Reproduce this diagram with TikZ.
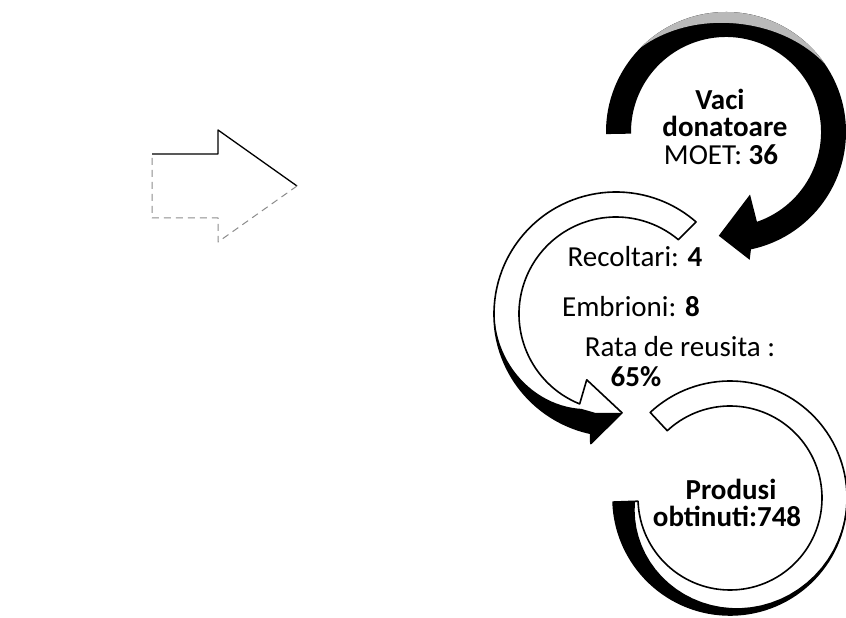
\documentclass[tikz,border=0pt]{standalone}
\usepackage{fontspec}
\setmainfont{Carlito}
\begin{document}
\begin{tikzpicture}[x=1pt,y=1pt,line join=round,
  lbl/.style={anchor=base,inner sep=0pt,font=\fontsize{29}{29}\selectfont},
  ringline/.style={draw=black,line width=1.6}]
\useasboundingbox (0,0) rectangle (846,618);
\fill[white] (0,0) rectangle (846,618);

% ---- left block arrow ----
\coordinate (la1) at (152,464);
\coordinate (la2) at (218,464);
\coordinate (la3) at (218,488);
\coordinate (la4) at (297,432);
\coordinate (la5) at (218,376);
\coordinate (la6) at (218,400);
\coordinate (la7) at (152,400);
\draw[black,line width=1.3] (la1) -- (la2) -- (la3) -- (la4);
\draw[black!45,line width=1,dash pattern=on 7pt off 5pt] (la4) -- (la5) -- (la6) -- (la7) -- (la1);

% ---- ring 1 (top, black) ----
\begin{scope}[shift={(726,486)}]
\fill[black] (181:120) arc[start angle=181,end angle=-78,radius=120]
  -- (-79.5:130) -- (-94:104) -- (-69:67) -- (-71:95)
  arc[start angle=-71,end angle=181,radius=95] -- cycle;
\fill[gray!55] (135:120) arc[start angle=135,end angle=35,radius=120]
  -- plot[domain=35:135,samples=40] (\x:{120-11*sin((\x-35)*1.8)}) -- cycle;
\end{scope}

% ---- ring 2 (middle, outlined) ----
\begin{scope}[shift={(616,304)}]
\fill[white] (49:122) arc[start angle=49,end angle=258,radius=122]
  -- (259:132) -- (273.5:99) -- (246:72) -- (248:97)
  arc[start angle=248,end angle=50,radius=97] -- cycle;
\fill[black] (170:122) arc[start angle=170,end angle=258,radius=122]
  -- (259:132) -- (273.5:99) -- (258:101)
  -- plot[domain=250:170,samples=30] (\x:{122-21*((\x-170)/80)*((\x-170)/80)}) -- cycle;
\path[ringline] (49:122) arc[start angle=49,end angle=258,radius=122]
  -- (259:132) -- (273.5:99) -- (246:72) -- (248:97)
  arc[start angle=248,end angle=50,radius=97] -- cycle;
\end{scope}

% ---- ring 3 (bottom, outlined) ----
\begin{scope}[shift={(730,120)}]
\fill[white] (133:117) arc[start angle=133,end angle=-178,radius=117]
  -- (-178:92) arc[start angle=-178,end angle=133,radius=92] -- cycle;
\fill[black] (25:117) arc[start angle=25,end angle=-178,radius=117]
  -- (-178:95)
  -- plot[domain=-178:25,samples=40] (\x:{117-22*((25-\x)/203)*((25-\x)/203)}) -- cycle;
\path[ringline] (133:117) arc[start angle=133,end angle=-178,radius=117]
  -- (-178:92) arc[start angle=-178,end angle=133,radius=92] -- cycle;
\end{scope}

% ---- texts ----
\node[lbl] (v1) at (720,508) {\textbf{Vaci}};
\node[lbl] (v2) at (725,481) {\textbf{donatoare}};
\node[lbl] (v3) at (721,453) {MOET: \textbf{36}};
\node[lbl] (m1) at (635,351) {Recoltari: \textbf{4}};
\node[lbl] (m2) at (631,301) {Embrioni: \textbf{8}};
\node[lbl] (m3) at (680,261) {Rata de reusita :};
\node[lbl] (m4) at (636,231) {\textbf{65\%}};
\node[lbl] (p1) at (731,118) {\textbf{Produsi}};
\node[lbl] (p2) at (727,91) {\textbf{obtinuti:748}};
\end{tikzpicture}
\end{document}
